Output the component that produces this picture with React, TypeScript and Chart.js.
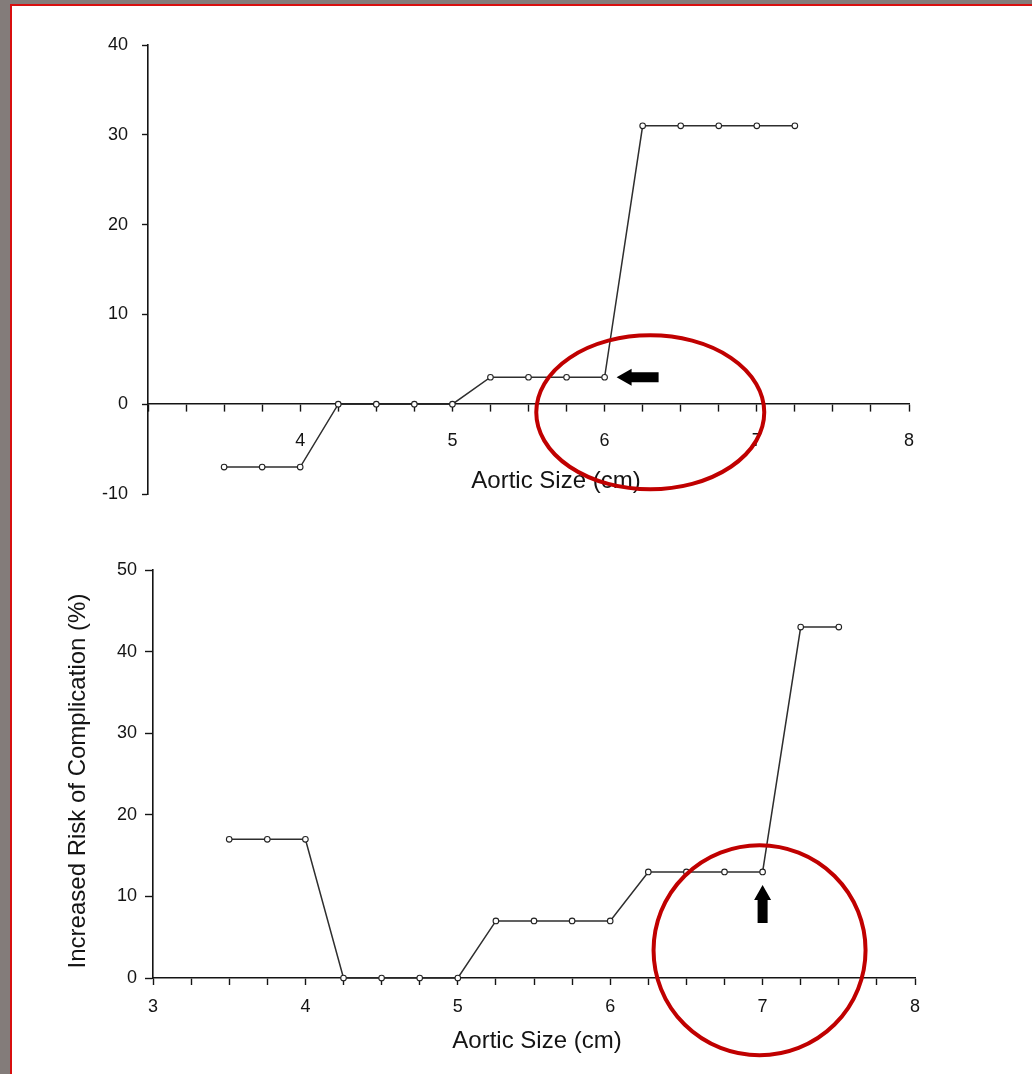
import React, { useEffect, useRef } from "react";
import { Chart, registerables } from "chart.js";

Chart.register(...registerables);

// ---------- data ----------
const sizesTop = [3.5, 3.75, 4, 4.25, 4.5, 4.75, 5, 5.25, 5.5, 5.75, 6, 6.25, 6.5, 6.75, 7, 7.25];
const riskTop = [-7, -7, -7, 0, 0, 0, 0, 3, 3, 3, 3, 31, 31, 31, 31, 31];

const sizesBottom = [3.5, 3.75, 4, 4.25, 4.5, 4.75, 5, 5.25, 5.5, 5.75, 6, 6.25, 6.5, 6.75, 7, 7.25, 7.5];
const riskBottom = [17, 17, 17, 0, 0, 0, 0, 7, 7, 7, 7, 13, 13, 13, 13, 43, 43];

const topXLabels = [4, 5, 6, 7, 8];
const bottomXLabels = [3, 4, 5, 6, 7, 8];
const xTitle = "Aortic Size (cm)";
const yTitle = "Increased Risk of Complication (%)";

// ---------- style ----------
const FONT = '"Liberation Sans", Arial, Helvetica, sans-serif';
const INK = "#141414";
const LINE = "#2e2e2e";
const RED = "#c00000";

type Ann = {
  titleX: number;
  titleY: number;
  yTitle?: { x: number; y: number };
  ellipse: { cx: number; cy: number; rx: number; ry: number };
  arrow: { x: number; y: number; dx: number; dy: number; dir: "left" | "up" };
};

function drawArrow(ctx: CanvasRenderingContext2D, tx: number, ty: number, dir: "left" | "up") {
  const headLen = 15;
  const headHalf = 8.5;
  const shaftHalf = 5;
  const total = dir === "left" ? 42 : 38;
  const pts: [number, number][] = [
    [0, 0],
    [headLen, -headHalf],
    [headLen, -shaftHalf],
    [total, -shaftHalf],
    [total, shaftHalf],
    [headLen, shaftHalf],
    [headLen, headHalf],
  ];
  ctx.save();
  ctx.fillStyle = "#000";
  ctx.beginPath();
  pts.forEach(([a, b], i) => {
    const px = dir === "left" ? tx + a : tx + b;
    const py = dir === "left" ? ty + b : ty + a;
    if (i === 0) ctx.moveTo(px, py);
    else ctx.lineTo(px, py);
  });
  ctx.closePath();
  ctx.fill();
  ctx.restore();
}

function makeAnnotationPlugin(ann: Ann) {
  return {
    id: "annotations",
    afterDraw(chart: any) {
      const ctx: CanvasRenderingContext2D = chart.ctx;
      const xs = chart.scales.x;
      const ys = chart.scales.y;
      ctx.save();
      ctx.fillStyle = INK;
      ctx.font = `24px ${FONT}`;
      ctx.textAlign = "center";
      ctx.textBaseline = "middle";
      ctx.fillText(xTitle, ann.titleX, ann.titleY);
      if (ann.yTitle) {
        ctx.save();
        ctx.translate(ann.yTitle.x, ann.yTitle.y);
        ctx.rotate(-Math.PI / 2);
        ctx.fillText(yTitle, 0, 0);
        ctx.restore();
      }
      // arrow
      const ax = xs.getPixelForValue(ann.arrow.x) + ann.arrow.dx;
      const ay = ys.getPixelForValue(ann.arrow.y) + ann.arrow.dy;
      drawArrow(ctx, ax, ay, ann.arrow.dir);
      // ellipse
      const e = ann.ellipse;
      ctx.strokeStyle = RED;
      ctx.lineWidth = 4;
      ctx.beginPath();
      ctx.ellipse(xs.getPixelForValue(e.cx), ys.getPixelForValue(e.cy), e.rx, e.ry, 0, 0, Math.PI * 2);
      ctx.stroke();
      ctx.restore();
    },
  };
}

function dataset(xs: number[], ys: number[]) {
  return {
    data: xs.map((x, i) => ({ x, y: ys[i] })),
    borderColor: LINE,
    borderWidth: 1.5,
    pointRadius: 2.8,
    pointBackgroundColor: "#ffffff",
    pointBorderColor: "#222222",
    pointBorderWidth: 1.1,
    tension: 0,
    clip: false as any,
  };
}

function PlotCanvas(props: {
  width: number;
  height: number;
  top: number;
  build: (canvas: HTMLCanvasElement) => Chart;
}) {
  const ref = useRef<HTMLCanvasElement | null>(null);
  useEffect(() => {
    if (!ref.current) return;
    const chart = props.build(ref.current);
    return () => chart.destroy();
  }, []);
  return (
    <canvas
      ref={ref}
      width={props.width}
      height={props.height}
      style={{
        position: "absolute",
        left: 0,
        top: props.top,
        width: props.width,
        height: props.height,
      }}
    />
  );
}

function buildTop(canvas: HTMLCanvasElement) {
  return new Chart(canvas, {
    type: "line",
    data: { datasets: [dataset(sizesTop, riskTop) as any] },
    options: {
      responsive: false,
      maintainAspectRatio: false,
      animation: false,
      layout: { padding: { left: 88, right: 1032 - 909, top: 45, bottom: 26 } },
      plugins: { legend: { display: false }, tooltip: { enabled: false } },
      scales: {
        x: {
          type: "linear",
          min: 3,
          max: 8,
          position: { y: 0 } as any,
          ticks: {
            stepSize: 0.25,
            autoSkip: false,
            maxRotation: 0,
            callback: (v: any) => (topXLabels.includes(Number(v)) ? String(v) : ""),
            font: { family: FONT, size: 18 },
            color: INK,
            padding: 19,
          },
          grid: { drawOnChartArea: false, tickLength: 7, tickWidth: 1.4, color: INK },
          border: { color: INK, width: 1.6 },
        },
        y: {
          type: "linear",
          min: -10,
          max: 40,
          position: "left",
          afterFit: (s: any) => {
            s.width = 60;
          },
          ticks: {
            stepSize: 10,
            font: { family: FONT, size: 18 },
            color: INK,
            padding: 14,
          },
          grid: { drawOnChartArea: false, tickLength: 6, tickWidth: 1.4, color: INK },
          border: { color: INK, width: 1.6 },
        },
      },
    },
    plugins: [
      makeAnnotationPlugin({
        titleX: 556,
        titleY: 481,
        ellipse: { cx: 6.3, cy: -0.9, rx: 114, ry: 77 },
        arrow: { x: 6, y: 3, dx: 12, dy: 0, dir: "left" },
      }) as any,
    ],
  });
}

function buildBottom(canvas: HTMLCanvasElement) {
  return new Chart(canvas, {
    type: "line",
    data: { datasets: [dataset(sizesBottom, riskBottom) as any] },
    options: {
      responsive: false,
      maintainAspectRatio: false,
      animation: false,
      layout: { padding: { left: 93, right: 1032 - 915, top: 50, bottom: 56 } },
      plugins: { legend: { display: false }, tooltip: { enabled: false } },
      scales: {
        x: {
          type: "linear",
          min: 3,
          max: 8,
          position: "bottom",
          afterFit: (s: any) => {
            s.height = 40;
          },
          ticks: {
            stepSize: 0.25,
            autoSkip: false,
            maxRotation: 0,
            callback: (v: any) => (bottomXLabels.includes(Number(v)) ? String(v) : ""),
            font: { family: FONT, size: 18 },
            color: INK,
            padding: 11,
          },
          grid: { drawOnChartArea: false, tickLength: 7, tickWidth: 1.4, color: INK },
          border: { color: INK, width: 1.6 },
        },
        y: {
          type: "linear",
          min: 0,
          max: 50,
          position: "left",
          afterFit: (s: any) => {
            s.width = 60;
          },
          ticks: {
            stepSize: 10,
            font: { family: FONT, size: 18 },
            color: INK,
            padding: 8,
          },
          grid: { drawOnChartArea: false, tickLength: 8, tickWidth: 1.4, color: INK },
          border: { color: INK, width: 1.6 },
        },
      },
    },
    plugins: [
      makeAnnotationPlugin({
        titleX: 537,
        titleY: 521,
        yTitle: { x: 78, y: 261 },
        ellipse: { cx: 6.98, cy: 3.4, rx: 106, ry: 105 },
        arrow: { x: 7, y: 13, dx: 0, dy: 13, dir: "up" },
      }) as any,
    ],
  });
}

export default function App() {
  return (
    <div
      style={{
        position: "absolute",
        left: 0,
        top: 0,
        width: 1032,
        height: 1074,
        background: "#837c7a",
        overflow: "hidden",
      }}
    >
      <div
        style={{
          position: "absolute",
          left: 10,
          top: 4,
          right: 0,
          bottom: 0,
          background: "#ffffff",
          borderTop: "2px solid #d80f0f",
          borderLeft: "2px solid #d80f0f",
        }}
      />
      <PlotCanvas width={1032} height={520} top={0} build={buildTop} />
      <PlotCanvas width={1032} height={554} top={520} build={buildBottom} />
    </div>
  );
}
